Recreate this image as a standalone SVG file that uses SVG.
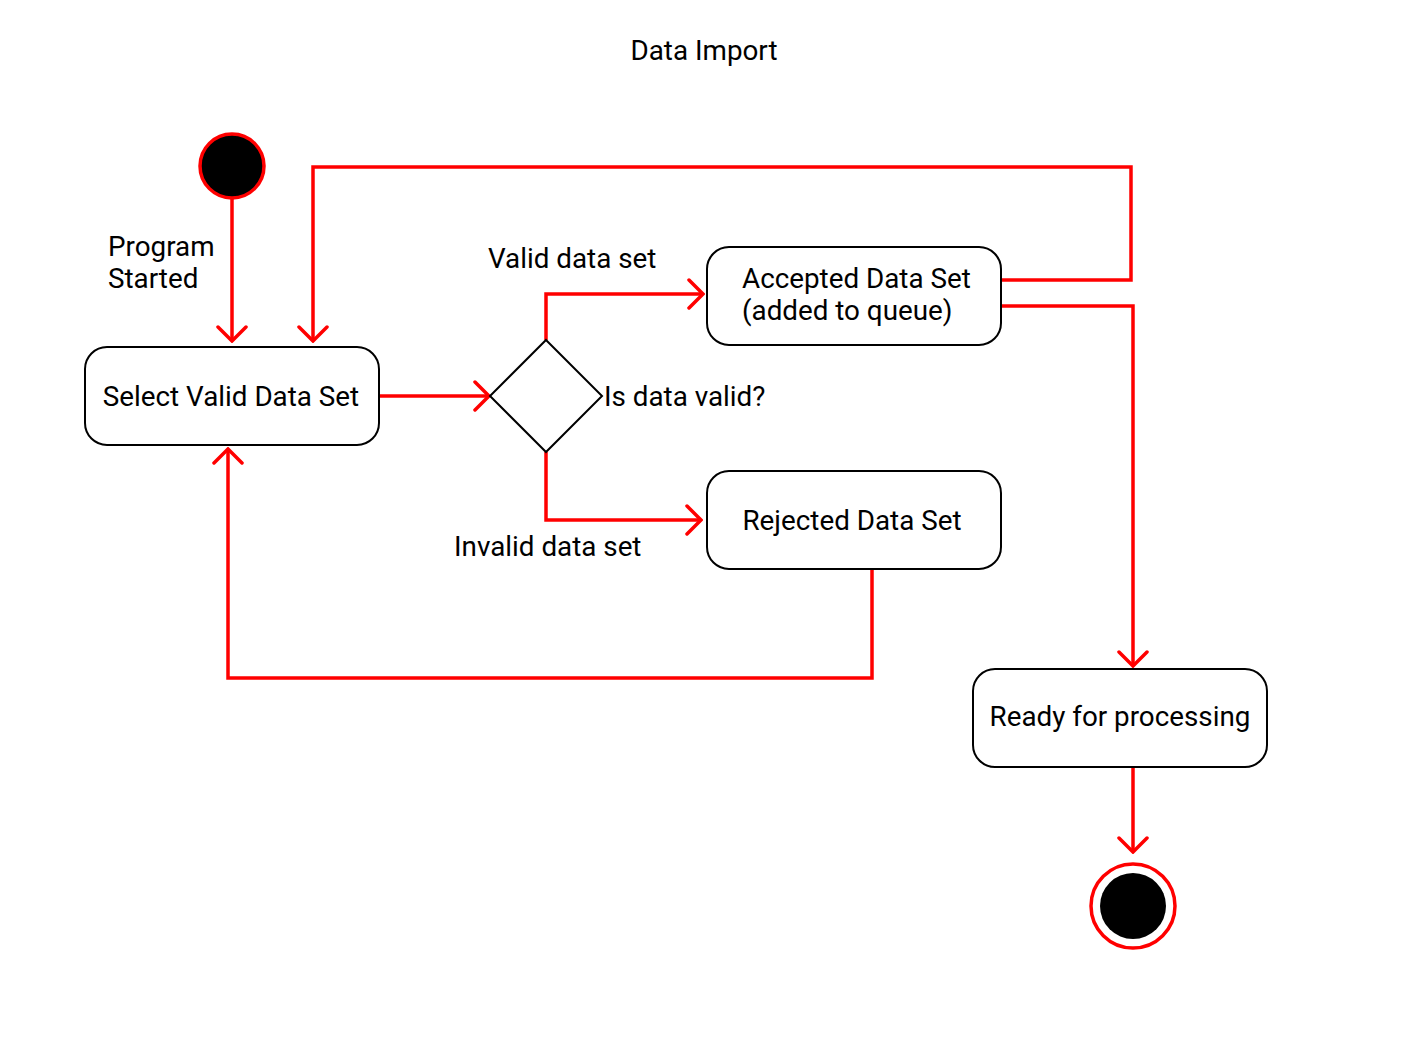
<svg xmlns="http://www.w3.org/2000/svg" width="1410" height="1040" viewBox="0 0 1410 1040">
<style>
text{font-family:Roboto,"Liberation Sans",sans-serif;font-size:27.8px;fill:#000}
.box{fill:#fff;stroke:#000;stroke-width:2}
.c{fill:none;stroke:#ff0000;stroke-width:3.5;marker-end:url(#a)}
.m{text-anchor:middle}
</style>
<defs>
<marker id="a" viewBox="-16 -16 18 32" refX="0" refY="0" markerWidth="18" markerHeight="32" markerUnits="userSpaceOnUse" orient="auto">
<path d="M-14,-14 L0,0 L-14,14" fill="none" stroke="#ff0000" stroke-width="3.5" stroke-linecap="round"/>
</marker>
</defs>
<rect width="1410" height="1040" fill="#fff"/>
<text x="704" y="60" class="m">Data Import</text>
<g id="connectors">
<path class="c" d="M232,198 V341"/>
<path class="c" d="M379,396 H489"/>
<path class="c" d="M546,340 V294 H703"/>
<path class="c" d="M546,452 V520 H701"/>
<path class="c" d="M872,569 V678 H228 V449"/>
<path class="c" d="M1001,280 H1131 V167 H313 V341"/>
<path class="c" d="M1001,306 H1133 V666"/>
<path class="c" d="M1133,767 V852"/>
<text x="108" y="256">Program</text>
<text x="108" y="288">Started</text>
<text x="488" y="268">Valid data set</text>
<text x="454" y="556">Invalid data set</text>
</g>
<g id="start"><circle cx="232" cy="166" r="32" fill="#000" stroke="#ff0000" stroke-width="3.5"/></g>
<g id="select"><rect class="box" x="85" y="347" width="294" height="98" rx="22"/><text x="231" y="406" class="m">Select Valid Data Set</text></g>
<g id="decision"><path d="M546,340 L602,396 L546,452 L490,396 Z" fill="#fff" stroke="#000" stroke-width="2"/><text x="604" y="406">Is data valid?</text></g>
<g id="accepted"><rect class="box" x="707" y="247" width="294" height="98" rx="22"/><text x="742" y="288">Accepted Data Set</text><text x="742" y="320">(added to queue)</text></g>
<g id="rejected"><rect class="box" x="707" y="471" width="294" height="98" rx="22"/><text x="852" y="530" class="m">Rejected Data Set</text></g>
<g id="ready"><rect class="box" x="973" y="669" width="294" height="98" rx="22"/><text x="1120" y="726" class="m">Ready for processing</text></g>
<g id="end"><circle cx="1133" cy="906" r="42" fill="#fff" stroke="#ff0000" stroke-width="3.5"/><circle cx="1133" cy="906" r="33" fill="#000"/></g>
</svg>
